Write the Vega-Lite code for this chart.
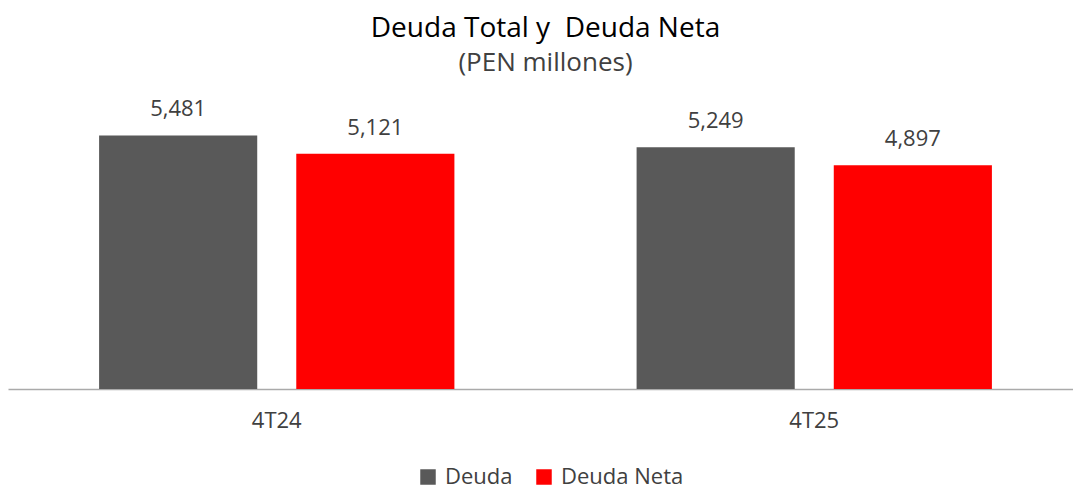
{
  "$schema": "https://vega.github.io/schema/vega-lite/v6.json",
  "autosize": {"type": "none"},
  "width": 1075,
  "height": 280,
  "padding": {"left": 8, "top": 109, "right": 0, "bottom": 102},
  "background": "white",
  "title": {
    "text": "Deuda Total y\u00a0 Deuda Neta",
    "subtitle": "(PEN millones)",
    "anchor": "middle",
    "font": "Open Sans",
    "fontSize": 28,
    "fontWeight": "normal",
    "color": "#000000",
    "subtitleFont": "Open Sans",
    "subtitleFontSize": 26,
    "subtitleColor": "#404040",
    "subtitlePadding": 7,
    "offset": 22
  },
  "data": {
    "values": [
      {"periodo": "4T24", "serie": "Deuda", "valor": 5481},
      {"periodo": "4T24", "serie": "Deuda Neta", "valor": 5121},
      {"periodo": "4T25", "serie": "Deuda", "valor": 5249},
      {"periodo": "4T25", "serie": "Deuda Neta", "valor": 4897}
    ]
  },
  "encoding": {
    "x": {
      "field": "periodo",
      "type": "nominal",
      "scale": {"paddingInner": 0, "paddingOuter": 0},
      "axis": {
        "title": null,
        "labelAngle": 0,
        "labelFont": "Open Sans",
        "labelFontSize": 22,
        "labelColor": "#404040",
        "labelPadding": 21,
        "ticks": false,
        "domainColor": "#aaaaaa",
        "domainWidth": 1.5,
        "grid": false
      }
    },
    "xOffset": {
      "field": "serie",
      "type": "nominal",
      "scale": {"paddingInner": 0.198, "paddingOuter": 0.462}
    },
    "y": {
      "field": "valor",
      "type": "quantitative",
      "scale": {"domain": [500, 6000], "zero": false, "nice": false},
      "axis": null
    }
  },
  "layer": [
    {
      "mark": {"type": "bar", "strokeWidth": 0},
      "encoding": {
        "y2": {"datum": 500},
        "color": {
          "field": "serie",
          "type": "nominal",
          "scale": {"domain": ["Deuda", "Deuda Neta"], "range": ["#595959", "#ff0000"]},
          "legend": {
            "title": null,
            "orient": "none",
            "direction": "horizontal",
            "legendX": 409,
            "legendY": 357,
            "padding": 0,
            "symbolType": "square",
            "symbolSize": 240,
            "symbolStrokeWidth": 0,
            "labelFont": "Open Sans",
            "labelFontSize": 22,
            "labelColor": "#404040",
            "labelOffset": 6,
            "columnPadding": 20
          }
        }
      }
    },
    {
      "mark": {
        "type": "text",
        "baseline": "alphabetic",
        "dy": -19,
        "font": "Open Sans",
        "fontSize": 22,
        "color": "#404040"
      },
      "encoding": {
        "text": {"field": "valor", "type": "quantitative", "format": ","}
      }
    }
  ],
  "config": {
    "view": {"stroke": null}
  }
}
